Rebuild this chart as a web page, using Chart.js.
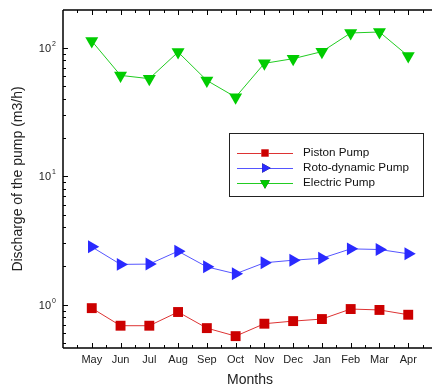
<!DOCTYPE html>
<html>
<head>
<meta charset="utf-8">
<script src="https://cdn.jsdelivr.net/npm/chart.js@4/dist/chart.umd.min.js"></script>
<style>
  html, body { margin: 0; padding: 0; background: #fff; overflow: hidden; }
  #wrap { width: 445px; height: 388px; }
</style>
</head>
<body>
<div id="wrap"><canvas id="c" width="445" height="388"></canvas></div>
<script>
// data
const months = ['May', 'Jun', 'Jul', 'Aug', 'Sep', 'Oct', 'Nov', 'Dec', 'Jan', 'Feb', 'Mar', 'Apr'];
const pistonPump = [0.94, 0.686, 0.686, 0.877, 0.657, 0.569, 0.711, 0.745, 0.773, 0.925, 0.91, 0.835];
const rotoPump = [2.82, 2.06, 2.07, 2.61, 1.97, 1.74, 2.12, 2.22, 2.30, 2.72, 2.69, 2.49];
const electricPump = [113, 61, 57.5, 92.7, 55.7, 41.3, 75.7, 82.3, 93.4, 130.5, 132.8, 86.3];
const decades = [1, 10, 100];

const FONT = 'Arial, "Liberation Sans", Helvetica, sans-serif';

function pts(vals) {
  return vals.map((v, i) => ({x: i, y: v}));
}

// axes frame, ticks, labels, titles and legend
const decor = {
  id: 'decor',
  afterDraw(chart) {
    const ctx = chart.ctx;
    const xs = chart.scales.x, ys = chart.scales.y;
    const a = chart.chartArea;
    ctx.save();
    ctx.strokeStyle = '#000';
    ctx.lineWidth = 1.5;
    ctx.beginPath();
    ctx.moveTo(a.left, a.top); ctx.lineTo(a.right, a.top);
    ctx.moveTo(a.left, a.top); ctx.lineTo(a.left, a.bottom);
    ctx.moveTo(a.left, a.bottom); ctx.lineTo(a.right, a.bottom);
    ctx.moveTo(a.right, a.top); ctx.lineTo(a.right, a.bottom);
    ctx.stroke();

    // x ticks (inward, top and bottom)
    ctx.lineWidth = 1;
    ctx.beginPath();
    for (let v = -0.5; v <= 12; v += 0.5) {
      const px = Math.round(xs.getPixelForValue(v)) + 0.5;
      const len = Number.isInteger(v) ? 5 : 3;
      ctx.moveTo(px, a.bottom); ctx.lineTo(px, a.bottom - len);
      ctx.moveTo(px, a.top); ctx.lineTo(px, a.top + len);
    }
    // y ticks
    decades.forEach(d => {
      const py = Math.round(ys.getPixelForValue(d)) + 0.5;
      ctx.moveTo(a.left, py); ctx.lineTo(a.left + 5, py);
    });
    for (let d = 0.1; d < 1000; d *= 10) {
      for (let k = 2; k <= 9; k++) {
        const v = d * k;
        if (v < ys.min || v > ys.max) continue;
        const py = Math.round(ys.getPixelForValue(v)) + 0.5;
        ctx.moveTo(a.left, py); ctx.lineTo(a.left + 3, py);
      }
    }
    ctx.stroke();

    // x tick labels
    ctx.fillStyle = '#222';
    ctx.font = '11px ' + FONT;
    ctx.textAlign = 'center';
    ctx.textBaseline = 'middle';
    months.forEach((m, i) => {
      ctx.fillText(m, xs.getPixelForValue(i), a.bottom + 12);
    });

    // y tick labels 10^n
    decades.forEach(d => {
      const py = ys.getPixelForValue(d);
      const exp = String(Math.round(Math.log10(d)));
      ctx.font = '11px ' + FONT;
      ctx.textAlign = 'right';
      ctx.textBaseline = 'middle';
      ctx.fillText('10', a.left - 12, py + 1);
      ctx.font = '7px ' + FONT;
      ctx.textAlign = 'left';
      ctx.fillText(exp, a.left - 11, py - 4);
    });

    // axis titles
    ctx.font = '14px ' + FONT;
    ctx.textAlign = 'center';
    ctx.textBaseline = 'middle';
    ctx.fillText('Months', (a.left + a.right) / 2, 380);
    ctx.save();
    ctx.translate(18, (a.top + a.bottom) / 2);
    ctx.rotate(-Math.PI / 2);
    ctx.fillText('Discharge of the pump (m3/h)', 0, 0);
    ctx.restore();

    // legend box
    const lx = 229, ly = 133, lw = 194, lh = 63;
    ctx.fillStyle = '#fff';
    ctx.fillRect(lx, ly, lw, lh);
    ctx.strokeStyle = '#222';
    ctx.lineWidth = 1;
    ctx.strokeRect(lx + 0.5, ly + 0.5, lw, lh);
    chart.data.datasets.forEach((ds, i) => {
      const y = 153 + i * 15;
      ctx.strokeStyle = ds.borderColor;
      ctx.lineWidth = 1;
      ctx.beginPath();
      ctx.moveTo(237, y + 0.5); ctx.lineTo(293, y + 0.5);
      ctx.stroke();
      Chart.helpers.drawPoint(ctx, {
        pointStyle: ds.pointStyle,
        rotation: ds.rotation || 0,
        radius: ds.pointRadius * 0.75,
        borderWidth: 0
      }, 265, y);
      ctx.fillStyle = ds.pointBackgroundColor;
      ctx.fill();
      ctx.fillStyle = '#111';
      ctx.font = '11.7px ' + FONT;
      ctx.textAlign = 'left';
      ctx.textBaseline = 'middle';
      ctx.fillText(ds.label, 303, y);
    });
    ctx.restore();
  }
};

new Chart(document.getElementById('c'), {
  type: 'line',
  data: {
    datasets: [
      {
        label: 'Piston Pump',
        data: pts(pistonPump),
        borderColor: '#dd3333',
        borderWidth: 1,
        pointStyle: 'rect',
        pointRadius: 7,
        pointBackgroundColor: '#cc0000',
        pointBorderWidth: 0
      },
      {
        label: 'Roto-dynamic Pump',
        data: pts(rotoPump),
        borderColor: '#5555ff',
        borderWidth: 1,
        pointStyle: 'triangle',
        rotation: 90,
        pointRadius: 7.5,
        pointBackgroundColor: '#2a2aff',
        pointBorderWidth: 0
      },
      {
        label: 'Electric Pump',
        data: pts(electricPump),
        borderColor: '#22cc22',
        borderWidth: 1,
        pointStyle: 'triangle',
        rotation: 180,
        pointRadius: 7.5,
        pointBackgroundColor: '#00cc00',
        pointBorderWidth: 0
      }
    ]
  },
  options: {
    responsive: false,
    animation: false,
    devicePixelRatio: 1,
    layout: { padding: { left: 63, top: 10, right: 8, bottom: 40 } },
    plugins: { legend: { display: false }, tooltip: { enabled: false } },
    scales: {
      x: { type: 'linear', min: -1, max: 12, display: false },
      y: { type: 'logarithmic', min: 0.46, max: 197, display: false }
    }
  },
  plugins: [decor]
});
</script>
</body>
</html>
